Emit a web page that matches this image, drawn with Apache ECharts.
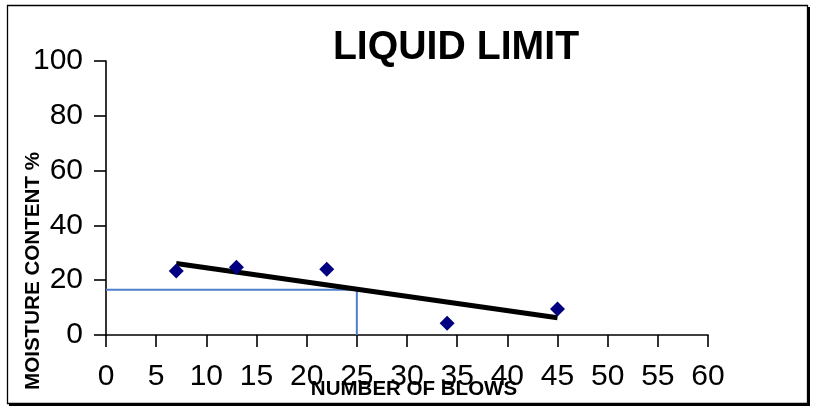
<!DOCTYPE html>
<html>
<head>
<meta charset="utf-8">
<script src="https://cdn.jsdelivr.net/npm/echarts@6/dist/echarts.min.js"></script>
<style>
  html, body { margin: 0; padding: 0; background: #ffffff; }
  #chart { width: 813px; height: 409px; }
</style>
</head>
<body>
<div id="chart"></div>
<script>
// Liquid limit test: number of blows vs. moisture content
const blows = [7, 13, 22, 34, 45];
const moisture = [23.4, 24.7, 24.0, 4.3, 9.5];

// Best-fit line end points
const trendBlows = [7, 45];
const trendMoisture = [26.1, 6.3];

// Liquid limit read at 25 blows
const llBlows = 25;
const llMoisture = 16.5;

const xTicks = { min: 0, max: 60, step: 5 };
const yTicks = { min: 0, max: 100, step: 20 };

const FONT = '"Liberation Sans", Arial, sans-serif';

const chart = echarts.init(document.getElementById('chart'), null, { renderer: 'canvas' });

const points = blows.map((b, i) => [b, moisture[i]]);
const trend = trendBlows.map((b, i) => [b, trendMoisture[i]]);
const guide = [[0, llMoisture], [llBlows, llMoisture], [llBlows, 0]];

chart.setOption({
  animation: false,
  backgroundColor: '#ffffff',
  grid: { left: 106, right: 105, top: 61, bottom: 74, containLabel: false },
  xAxis: {
    type: 'value',
    min: xTicks.min, max: xTicks.max, interval: xTicks.step,
    splitLine: { show: false },
    axisLine: { onZero: false, lineStyle: { color: '#000', width: 1.6 } },
    axisTick: { inside: false, length: 12, lineStyle: { color: '#000', width: 1.6 } },
    axisLabel: { color: '#000', fontSize: 30, fontFamily: FONT, margin: 27 }
  },
  yAxis: {
    type: 'value',
    min: yTicks.min, max: yTicks.max, interval: yTicks.step,
    splitLine: { show: false },
    axisLine: { show: true, onZero: false, lineStyle: { color: '#000', width: 1.6 } },
    axisTick: { show: true, inside: false, length: 12, lineStyle: { color: '#000', width: 1.6 } },
    axisLabel: { color: '#000', fontSize: 30, fontFamily: FONT, margin: 23 }
  },
  graphic: [
    { type: 'rect', z: -20, silent: true,
      shape: { x: 9, y: 7, width: 801, height: 399 },
      style: { fill: '#000' } },
    { type: 'rect', z: -19, silent: true,
      shape: { x: 7.5, y: 5.5, width: 800, height: 398 },
      style: { fill: '#fff', stroke: '#000', lineWidth: 1.3 } },
    { type: 'text', z: 10, silent: true,
      x: 456, y: 48, scaleX: 1.06, scaleY: 1.08,
      style: { text: 'LIQUID LIMIT', fill: '#000', font: 'bold 37px ' + FONT,
               textAlign: 'center', textVerticalAlign: 'middle' } },
    { type: 'text', z: 10, silent: true,
      x: 414, y: 389, scaleX: 1.08, scaleY: 1.08,
      style: { text: 'NUMBER OF BLOWS', fill: '#000', font: 'bold 19px ' + FONT,
               textAlign: 'center', textVerticalAlign: 'middle' } },
    { type: 'text', z: 10, silent: true,
      x: 33, y: 271, rotation: Math.PI / 2, scaleX: 1.03, scaleY: 1.05,
      style: { text: 'MOISTURE CONTENT %', fill: '#000', font: 'bold 20px ' + FONT,
               textAlign: 'center', textVerticalAlign: 'middle' } }
  ],
  series: [
    {
      type: 'line', data: guide, symbol: 'none', silent: true,
      lineStyle: { color: '#4F7FCB', width: 2 }, z: 2
    },
    {
      type: 'line', data: trend, symbol: 'none', silent: true,
      lineStyle: { color: '#000', width: 5 }, z: 3
    },
    {
      type: 'scatter', data: points, symbol: 'diamond', symbolSize: [15, 15],
      itemStyle: { color: '#000080', opacity: 1 }, z: 4
    }
  ]
});
</script>
</body>
</html>
